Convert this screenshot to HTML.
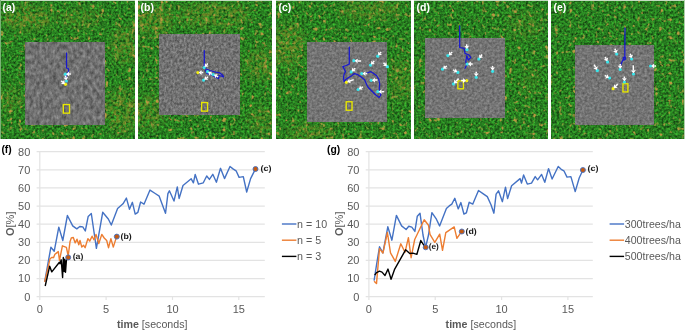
<!DOCTYPE html>
<html><head><meta charset="utf-8"><style>
html,body{margin:0;padding:0;background:#fff;}
body{width:685px;height:330px;overflow:hidden;position:relative;font-family:"Liberation Sans",sans-serif;}
svg{position:absolute;left:0;top:0;will-change:transform;}
</style></head><body>
<svg width="685" height="330" viewBox="0 0 685 330">
<defs>
<filter id="forest" x="0" y="0" width="100%" height="100%" color-interpolation-filters="sRGB">
  <feTurbulence type="fractalNoise" baseFrequency="0.42" numOctaves="2" seed="4" result="fine"/>
  <feColorMatrix in="fine" type="matrix" result="green" values="
    0.25 0 0 0 0.03
    0.8 0 0 0 0.09
    0.2 0 0 0 0.025
    0 0 0 0 1"/>
  <feGaussianBlur in="green" stdDeviation="0.45"/>
</filter>
<filter id="olive" x="0" y="0" width="100%" height="100%" color-interpolation-filters="sRGB">
  <feTurbulence type="fractalNoise" baseFrequency="0.3" numOctaves="2" seed="11" result="n"/>
  <feColorMatrix in="n" type="matrix" values="
    0 0 0 0 0.58
    0 0 0 0 0.57
    0 0 0 0 0.17
    0 0 0 4.0 -1.6"/>
  <feGaussianBlur stdDeviation="0.5"/>
</filter>
<filter id="speck" x="0" y="0" width="100%" height="100%" color-interpolation-filters="sRGB">
  <feTurbulence type="fractalNoise" baseFrequency="0.22" numOctaves="2" seed="23" result="n"/>
  <feColorMatrix in="n" type="matrix" values="
    0 0 0 0 0.72
    0 0 0 0 0.6
    0 0 0 0 0.26
    0 0 0 5.0 -3.1"/>
  <feGaussianBlur stdDeviation="0.5"/>
</filter>
<filter id="blurm" x="-50%" y="-50%" width="200%" height="200%"><feGaussianBlur stdDeviation="4"/></filter>
<filter id="grayn" x="0" y="0" width="100%" height="100%" color-interpolation-filters="sRGB">
  <feTurbulence type="fractalNoise" baseFrequency="0.4" numOctaves="2" seed="2" result="n"/>
  <feColorMatrix in="n" type="matrix" values="
    0.32 0 0 0 0.295
    0.32 0 0 0 0.295
    0.32 0 0 0 0.295
    0 0 0 0 1"/>
  <feGaussianBlur stdDeviation="0.4"/>
</filter>
<filter id="grayb" x="0" y="0" width="100%" height="100%" color-interpolation-filters="sRGB">
  <feTurbulence type="fractalNoise" baseFrequency="0.45 0.35" numOctaves="3" seed="8" result="n"/>
  <feColorMatrix in="n" type="matrix" values="
    0.4 0 0 0 0.245
    0.4 0 0 0 0.245
    0.4 0 0 0 0.245
    0 0 0 0 1"/>
  <feGaussianBlur stdDeviation="0.4"/>
</filter>
<filter id="grays" x="0" y="0" width="100%" height="100%" color-interpolation-filters="sRGB">
  <feTurbulence type="fractalNoise" baseFrequency="0.3 0.2" numOctaves="3" seed="5" result="n"/>
  <feColorMatrix in="n" type="matrix" values="
    0.4 0 0 0 0.24
    0.4 0 0 0 0.24
    0.4 0 0 0 0.24
    0 0 0 0 1"/>
  <feGaussianBlur stdDeviation="0.4"/>
</filter>
</defs>

<rect x="1" y="1" width="134" height="138" filter="url(#forest)" fill="#000"/>
<rect x="138" y="1" width="134" height="138" filter="url(#forest)" fill="#000"/>
<rect x="276" y="1" width="135" height="138" filter="url(#forest)" fill="#000"/>
<rect x="414" y="1" width="134" height="138" filter="url(#forest)" fill="#000"/>
<rect x="551" y="1" width="133" height="138" filter="url(#forest)" fill="#000"/>
<mask id="om" maskUnits="userSpaceOnUse" x="0" y="0" width="685" height="140"><rect x="0" y="0" width="685" height="140" fill="#000"/><g filter="url(#blurm)">
<ellipse cx="28" cy="18" rx="25" ry="12" fill="#fff" opacity="0.68"/>
<ellipse cx="80" cy="18" rx="22" ry="10" fill="#fff" opacity="0.425"/>
<ellipse cx="125" cy="45" rx="14" ry="18" fill="#fff" opacity="0.595"/>
<ellipse cx="122" cy="112" rx="16" ry="22" fill="#fff" opacity="0.595"/>
<ellipse cx="10" cy="100" rx="12" ry="12" fill="#fff" opacity="0.425"/>
<ellipse cx="155" cy="20" rx="18" ry="15" fill="#fff" opacity="0.68"/>
<ellipse cx="215" cy="15" rx="35" ry="12" fill="#fff" opacity="0.595"/>
<ellipse cx="260" cy="65" rx="14" ry="15" fill="#fff" opacity="0.595"/>
<ellipse cx="150" cy="112" rx="14" ry="18" fill="#fff" opacity="0.51"/>
<ellipse cx="262" cy="122" rx="12" ry="14" fill="#fff" opacity="0.51"/>
<ellipse cx="288" cy="45" rx="14" ry="22" fill="#fff" opacity="0.68"/>
<ellipse cx="370" cy="10" rx="30" ry="10" fill="#fff" opacity="0.51"/>
<ellipse cx="402" cy="80" rx="10" ry="20" fill="#fff" opacity="0.51"/>
<ellipse cx="310" cy="132" rx="25" ry="8" fill="#fff" opacity="0.51"/>
<ellipse cx="525" cy="25" rx="18" ry="14" fill="#fff" opacity="0.2975"/>
<ellipse cx="530" cy="80" rx="10" ry="14" fill="#fff" opacity="0.255"/>
</g></mask>
<g mask="url(#om)">
<rect x="1" y="1" width="134" height="138" filter="url(#olive)" fill="#000"/>
<rect x="138" y="1" width="134" height="138" filter="url(#olive)" fill="#000"/>
<rect x="276" y="1" width="135" height="138" filter="url(#olive)" fill="#000"/>
<rect x="414" y="1" width="134" height="138" filter="url(#olive)" fill="#000"/>
<rect x="551" y="1" width="133" height="138" filter="url(#olive)" fill="#000"/>
</g>
<rect x="1" y="1" width="134" height="138" filter="url(#speck)" fill="#000"/>
<rect x="138" y="1" width="134" height="138" filter="url(#speck)" fill="#000"/>
<rect x="276" y="1" width="135" height="138" filter="url(#speck)" fill="#000"/>
<rect x="414" y="1" width="134" height="138" filter="url(#speck)" fill="#000"/>
<rect x="551" y="1" width="133" height="138" filter="url(#speck)" fill="#000"/>
<rect x="1" y="0" width="134" height="1" fill="#c4dcc0"/>
<rect x="138" y="0" width="134" height="1" fill="#c4dcc0"/>
<rect x="276" y="0" width="135" height="1" fill="#c4dcc0"/>
<rect x="414" y="0" width="134" height="1" fill="#c4dcc0"/>
<rect x="551" y="0" width="133" height="1" fill="#c4dcc0"/>
<rect x="0" y="0" width="1" height="139" fill="#7cb276"/>
<rect x="684" y="0" width="1" height="139" fill="#b0cfaa"/>
<rect x="25" y="42" width="80" height="83" filter="url(#grays)" fill="#000"/>
<rect x="159" y="34" width="81" height="81" filter="url(#grayb)" fill="#000"/>
<rect x="307" y="42" width="80" height="80" filter="url(#grayn)" fill="#000"/>
<rect x="425" y="38.5" width="80" height="79.5" filter="url(#grayn)" fill="#000"/>
<rect x="575" y="45" width="79" height="80" filter="url(#grayn)" fill="#000"/>
<rect x="63.9" y="105.2" width="5" height="7.3" fill="none" stroke="#2a2a80" stroke-width="0.6" opacity=".6"/>
<rect x="63.3" y="104.6" width="6.2" height="8.5" fill="none" stroke="#e8e800" stroke-width="1.4"/>
<rect x="202.3" y="103.2" width="4.6" height="7.3" fill="none" stroke="#2a2a80" stroke-width="0.6" opacity=".6"/>
<rect x="201.7" y="102.6" width="5.8" height="8.5" fill="none" stroke="#e8e800" stroke-width="1.4"/>
<rect x="346.8" y="102.4" width="4.6" height="7.2" fill="none" stroke="#2a2a80" stroke-width="0.6" opacity=".6"/>
<rect x="346.2" y="101.8" width="5.8" height="8.4" fill="none" stroke="#e8e800" stroke-width="1.4"/>
<rect x="458.5" y="81.5" width="4.3" height="6.7" fill="none" stroke="#2a2a80" stroke-width="0.6" opacity=".6"/>
<rect x="457.9" y="80.9" width="5.5" height="7.9" fill="none" stroke="#e8e800" stroke-width="1.4"/>
<rect x="623.6" y="84.4" width="3.7" height="6.9" fill="none" stroke="#2a2a80" stroke-width="0.6" opacity=".6"/>
<rect x="623" y="83.8" width="4.9" height="8.1" fill="none" stroke="#e8e800" stroke-width="1.4"/>
<polyline points="66.6,53 66.5,68 68,68.3 68.7,70 68.3,72.2 66.8,73.8 66.3,76.2 65.9,78" fill="none" stroke="#1818d0" stroke-width="1.25" stroke-linejoin="round" stroke-linecap="round"/>
<polyline points="204.3,50.5 204.3,66 206,69 210,70.5 215,72 219.5,72.8 223,75.5 223.5,77 221,76 219,75.5 218.5,78.5 216,77.5 212,75 207,73.5 205.5,70.5" fill="none" stroke="#1818d0" stroke-width="1.25" stroke-linejoin="round" stroke-linecap="round"/>
<polyline points="349.3,47 349.3,64.1 346.2,65.5 342.8,66.6 344.1,68.9 345.5,71.6 344.1,74.3 343.5,77.7 344.1,81.8 345.5,79.8 348.2,77.7 351.6,75.7 354.4,73.6 357.1,74.3 361.2,77.1 364.6,79.8 366.6,84.6 368.3,87.5 373.3,92.5 375.8,95 379.2,97.5 380.8,95 380,91.7 379.2,88.3 379.7,84.2 378.7,79.2 376.7,75.8 373.3,73.3 370.8,71.7 368.3,72.5 366.7,73.3" fill="none" stroke="#1818d0" stroke-width="1.25" stroke-linejoin="round" stroke-linecap="round"/>
<polyline points="459.7,25.8 459.7,47.5 464.2,48.3 465,53.3 469.2,55 470.8,57.5 468.3,60 466.7,55.8 465.8,61.7 466.7,65 465,68.3" fill="none" stroke="#1818d0" stroke-width="1.25" stroke-linejoin="round" stroke-linecap="round"/>
<polyline points="625,28 624.8,57.1 623.2,57.7 623.8,60.2 625.6,58.9 625,56.5 622.6,60.5 620.8,64.7 620.2,67.7" fill="none" stroke="#1818d0" stroke-width="1.25" stroke-linejoin="round" stroke-linecap="round"/>
<circle cx="65.4" cy="74.2" r="1.6" fill="#38e4ea"/>
<line x1="70.9" y1="73.9" x2="69.1" y2="74" stroke="#fff" stroke-width="1.5"/>
<polygon points="66.1,74.2 68.9,71.6 69.3,76.4" fill="#fff"/>
<circle cx="66.4" cy="81" r="1.6" fill="#38e4ea"/>
<line x1="65.6" y1="75.6" x2="65.8" y2="77.3" stroke="#fff" stroke-width="1.5"/>
<polygon points="66.3,80.3 63.5,77.7 68.2,77" fill="#fff"/>
<circle cx="65.5" cy="84.3" r="1.6" fill="#f2ee10"/>
<line x1="61.2" y1="80.9" x2="62.6" y2="82" stroke="#fff" stroke-width="1.5"/>
<polygon points="64.9,83.9 61.1,83.9 64.1,80.1" fill="#fff"/>
<circle cx="204.2" cy="67.6" r="1.6" fill="#38e4ea"/>
<line x1="207.9" y1="63.5" x2="206.7" y2="64.8" stroke="#fff" stroke-width="1.5"/>
<polygon points="204.6,67.1 204.9,63.2 208.4,66.4" fill="#fff"/>
<circle cx="197.9" cy="72.6" r="1.6" fill="#f2ee10"/>
<line x1="203.4" y1="72.6" x2="201.6" y2="72.6" stroke="#fff" stroke-width="1.5"/>
<polygon points="198.6,72.6 201.6,70.2 201.6,75" fill="#fff"/>
<circle cx="207.6" cy="71.7" r="1.6" fill="#38e4ea"/>
<line x1="212.2" y1="74.7" x2="210.7" y2="73.7" stroke="#fff" stroke-width="1.5"/>
<polygon points="208.2,72.1 212,71.7 209.4,75.8" fill="#fff"/>
<circle cx="213.2" cy="74.5" r="1.6" fill="#38e4ea"/>
<line x1="218.2" y1="76.9" x2="216.6" y2="76.1" stroke="#fff" stroke-width="1.5"/>
<polygon points="213.9,74.8 217.6,73.9 215.6,78.2" fill="#fff"/>
<circle cx="203.6" cy="80.1" r="1.6" fill="#38e4ea"/>
<line x1="208" y1="76.8" x2="206.6" y2="77.9" stroke="#fff" stroke-width="1.5"/>
<polygon points="204.2,79.7 205.1,76 208,79.8" fill="#fff"/>
<circle cx="353.9" cy="60.7" r="1.6" fill="#38e4ea"/>
<line x1="361.2" y1="61.1" x2="357.6" y2="60.9" stroke="#fff" stroke-width="1.5"/>
<polygon points="354.6,60.7 357.7,58.5 357.5,63.3" fill="#fff"/>
<circle cx="351.2" cy="71.9" r="1.6" fill="#38e4ea"/>
<line x1="355.3" y1="68.2" x2="353.9" y2="69.4" stroke="#fff" stroke-width="1.5"/>
<polygon points="351.7,71.5 352.3,67.7 355.6,71.2" fill="#fff"/>
<circle cx="361.8" cy="73.6" r="1.6" fill="#38e4ea"/>
<line x1="367.3" y1="73.6" x2="365.5" y2="73.6" stroke="#fff" stroke-width="1.5"/>
<polygon points="362.5,73.6 365.5,71.2 365.5,76" fill="#fff"/>
<circle cx="370.5" cy="65.1" r="1.6" fill="#38e4ea"/>
<line x1="374.2" y1="61.1" x2="373" y2="62.4" stroke="#fff" stroke-width="1.5"/>
<polygon points="370.9,64.6 371.3,60.7 374.7,64" fill="#fff"/>
<circle cx="377.7" cy="56.2" r="1.6" fill="#38e4ea"/>
<line x1="381.1" y1="51.9" x2="380" y2="53.3" stroke="#fff" stroke-width="1.5"/>
<polygon points="378.1,55.6 378.1,51.8 381.9,54.8" fill="#fff"/>
<circle cx="387.4" cy="66.7" r="1.6" fill="#38e4ea"/>
<line x1="383.5" y1="62.8" x2="384.7" y2="64" stroke="#fff" stroke-width="1.5"/>
<polygon points="386.9,66.2 383,65.7 386.4,62.3" fill="#fff"/>
<circle cx="371.2" cy="80.3" r="1.6" fill="#38e4ea"/>
<line x1="377.5" y1="80" x2="374.9" y2="80.1" stroke="#fff" stroke-width="1.5"/>
<polygon points="371.9,80.3 374.8,77.7 375,82.5" fill="#fff"/>
<circle cx="377.8" cy="91.7" r="1.6" fill="#38e4ea"/>
<line x1="384.2" y1="91.7" x2="381.5" y2="91.7" stroke="#fff" stroke-width="1.5"/>
<polygon points="378.5,91.7 381.5,89.3 381.5,94.1" fill="#fff"/>
<circle cx="358.1" cy="89.5" r="1.6" fill="#38e4ea"/>
<line x1="362.9" y1="86.9" x2="361.3" y2="87.7" stroke="#fff" stroke-width="1.5"/>
<polygon points="358.7,89.2 360.1,85.6 362.5,89.8" fill="#fff"/>
<circle cx="346.4" cy="82.3" r="1.6" fill="#f2ee10"/>
<line x1="353.7" y1="79.6" x2="349.9" y2="81" stroke="#fff" stroke-width="1.5"/>
<polygon points="347.1,82 349.1,78.7 350.7,83.2" fill="#fff"/>
<circle cx="467" cy="49.7" r="1.6" fill="#38e4ea"/>
<line x1="466.6" y1="44.2" x2="466.7" y2="46" stroke="#fff" stroke-width="1.5"/>
<polygon points="467,49 464.3,46.2 469.1,45.8" fill="#fff"/>
<circle cx="447.9" cy="55.6" r="1.6" fill="#38e4ea"/>
<line x1="452.2" y1="52.1" x2="450.8" y2="53.3" stroke="#fff" stroke-width="1.5"/>
<polygon points="448.5,55.2 449.2,51.4 452.3,55.1" fill="#fff"/>
<circle cx="478.9" cy="59" r="1.6" fill="#38e4ea"/>
<line x1="482.1" y1="54.5" x2="481" y2="56" stroke="#fff" stroke-width="1.5"/>
<polygon points="479.3,58.4 479.1,54.6 483,57.3" fill="#fff"/>
<circle cx="467.2" cy="64.1" r="1.6" fill="#38e4ea"/>
<line x1="472.7" y1="63.9" x2="470.9" y2="64" stroke="#fff" stroke-width="1.5"/>
<polygon points="467.9,64.1 470.8,61.6 471,66.4" fill="#fff"/>
<circle cx="442.5" cy="69.2" r="1.6" fill="#38e4ea"/>
<line x1="446.8" y1="65.8" x2="445.4" y2="66.9" stroke="#fff" stroke-width="1.5"/>
<polygon points="443.1,68.8 443.9,65 446.9,68.8" fill="#fff"/>
<circle cx="457.9" cy="72.4" r="1.6" fill="#38e4ea"/>
<line x1="453.1" y1="69.8" x2="454.7" y2="70.7" stroke="#fff" stroke-width="1.5"/>
<polygon points="457.3,72.1 453.5,72.8 455.8,68.6" fill="#fff"/>
<circle cx="476.2" cy="77.3" r="1.6" fill="#38e4ea"/>
<line x1="476.2" y1="71.8" x2="476.2" y2="73.6" stroke="#fff" stroke-width="1.5"/>
<polygon points="476.2,76.6 473.8,73.6 478.6,73.6" fill="#fff"/>
<circle cx="492.6" cy="71.3" r="1.6" fill="#38e4ea"/>
<line x1="492.6" y1="65.8" x2="492.6" y2="67.6" stroke="#fff" stroke-width="1.5"/>
<polygon points="492.6,70.6 490.2,67.6 495,67.6" fill="#fff"/>
<circle cx="453.5" cy="83.9" r="1.6" fill="#38e4ea"/>
<line x1="458.6" y1="78.6" x2="456" y2="81.2" stroke="#fff" stroke-width="1.5"/>
<polygon points="453.9,83.4 454.3,79.5 457.8,82.9" fill="#fff"/>
<circle cx="466.7" cy="80.7" r="1.6" fill="#f2ee10"/>
<line x1="461.2" y1="80.4" x2="463" y2="80.5" stroke="#fff" stroke-width="1.5"/>
<polygon points="466,80.7 462.9,82.9 463.2,78.1" fill="#fff"/>
<circle cx="616.7" cy="54" r="1.6" fill="#38e4ea"/>
<line x1="615" y1="48.7" x2="615.5" y2="50.5" stroke="#fff" stroke-width="1.5"/>
<polygon points="616.4,53.3 613.2,51.2 617.8,49.7" fill="#fff"/>
<circle cx="631.6" cy="59" r="1.6" fill="#38e4ea"/>
<line x1="630.2" y1="53.7" x2="630.7" y2="55.4" stroke="#fff" stroke-width="1.5"/>
<polygon points="631.4,58.3 628.3,56 633,54.8" fill="#fff"/>
<circle cx="607.6" cy="61.9" r="1.6" fill="#38e4ea"/>
<line x1="605.2" y1="57" x2="606" y2="58.6" stroke="#fff" stroke-width="1.5"/>
<polygon points="607.3,61.3 603.8,59.7 608.2,57.6" fill="#fff"/>
<circle cx="597.3" cy="70.6" r="1.6" fill="#38e4ea"/>
<line x1="594.1" y1="64.7" x2="595.6" y2="67.4" stroke="#fff" stroke-width="1.5"/>
<polygon points="597,70 593.5,68.5 597.7,66.2" fill="#fff"/>
<circle cx="620.2" cy="69.4" r="1.6" fill="#38e4ea"/>
<line x1="620.2" y1="63.9" x2="620.2" y2="65.7" stroke="#fff" stroke-width="1.5"/>
<polygon points="620.2,68.7 617.8,65.7 622.6,65.7" fill="#fff"/>
<circle cx="633.5" cy="74" r="1.6" fill="#38e4ea"/>
<line x1="633.2" y1="65.2" x2="633.4" y2="70.3" stroke="#fff" stroke-width="1.5"/>
<polygon points="633.5,73.3 631,70.4 635.8,70.2" fill="#fff"/>
<circle cx="650.6" cy="66" r="1.6" fill="#38e4ea"/>
<line x1="656.1" y1="66" x2="654.3" y2="66" stroke="#fff" stroke-width="1.5"/>
<polygon points="651.3,66 654.3,63.6 654.3,68.4" fill="#fff"/>
<circle cx="609.6" cy="78" r="1.6" fill="#38e4ea"/>
<line x1="604.8" y1="75.4" x2="606.4" y2="76.3" stroke="#fff" stroke-width="1.5"/>
<polygon points="609,77.7 605.2,78.4 607.5,74.2" fill="#fff"/>
<circle cx="624.4" cy="82" r="1.6" fill="#38e4ea"/>
<line x1="624.4" y1="76.5" x2="624.4" y2="78.3" stroke="#fff" stroke-width="1.5"/>
<polygon points="624.4,81.3 622,78.3 626.8,78.3" fill="#fff"/>
<circle cx="613.1" cy="88.7" r="1.6" fill="#f2ee10"/>
<line x1="617.7" y1="84.1" x2="615.8" y2="86" stroke="#fff" stroke-width="1.5"/>
<polygon points="613.6,88.2 614.1,84.3 617.5,87.7" fill="#fff"/>
<text x="2.5" y="11.2" font-size="10.5" font-weight="bold" fill="#fff">(a)</text>
<text x="140.5" y="11.2" font-size="10.5" font-weight="bold" fill="#fff">(b)</text>
<text x="278.5" y="11.2" font-size="10.5" font-weight="bold" fill="#fff">(c)</text>
<text x="416.5" y="11.2" font-size="10.5" font-weight="bold" fill="#fff">(d)</text>
<text x="553.5" y="11.2" font-size="10.5" font-weight="bold" fill="#fff">(e)</text>
</svg>
<svg width="685" height="330" viewBox="0 0 685 330" font-family="Liberation Sans, sans-serif">
<line x1="36.6" y1="278.6" x2="264.8" y2="278.6" stroke="#e3e3e3" stroke-width="1.2"/>
<line x1="36.6" y1="260.4" x2="264.8" y2="260.4" stroke="#e3e3e3" stroke-width="1.2"/>
<line x1="36.6" y1="242.3" x2="264.8" y2="242.3" stroke="#e3e3e3" stroke-width="1.2"/>
<line x1="36.6" y1="224.2" x2="264.8" y2="224.2" stroke="#e3e3e3" stroke-width="1.2"/>
<line x1="36.6" y1="206.1" x2="264.8" y2="206.1" stroke="#e3e3e3" stroke-width="1.2"/>
<line x1="36.6" y1="187.9" x2="264.8" y2="187.9" stroke="#e3e3e3" stroke-width="1.2"/>
<line x1="36.6" y1="169.8" x2="264.8" y2="169.8" stroke="#e3e3e3" stroke-width="1.2"/>
<line x1="36.6" y1="151.7" x2="264.8" y2="151.7" stroke="#e3e3e3" stroke-width="1.2"/>
<line x1="36.6" y1="296.7" x2="264.8" y2="296.7" stroke="#e3e3e3" stroke-width="1.2"/>
<line x1="39.8" y1="151.7" x2="39.8" y2="299.9" stroke="#e3e3e3" stroke-width="1.2"/>
<line x1="106.1" y1="296.7" x2="106.1" y2="299.9" stroke="#e3e3e3" stroke-width="1.2"/>
<line x1="172.5" y1="296.7" x2="172.5" y2="299.9" stroke="#e3e3e3" stroke-width="1.2"/>
<line x1="238.8" y1="296.7" x2="238.8" y2="299.9" stroke="#e3e3e3" stroke-width="1.2"/>
<text x="30.3" y="300.5" font-size="11" fill="#595959" text-anchor="end">0</text>
<text x="30.3" y="282.4" font-size="11" fill="#595959" text-anchor="end">10</text>
<text x="30.3" y="264.2" font-size="11" fill="#595959" text-anchor="end">20</text>
<text x="30.3" y="246.1" font-size="11" fill="#595959" text-anchor="end">30</text>
<text x="30.3" y="228" font-size="11" fill="#595959" text-anchor="end">40</text>
<text x="30.3" y="209.9" font-size="11" fill="#595959" text-anchor="end">50</text>
<text x="30.3" y="191.8" font-size="11" fill="#595959" text-anchor="end">60</text>
<text x="30.3" y="173.6" font-size="11" fill="#595959" text-anchor="end">70</text>
<text x="30.3" y="155.5" font-size="11" fill="#595959" text-anchor="end">80</text>
<text x="39.8" y="313" font-size="11" fill="#595959" text-anchor="middle">0</text>
<text x="106.1" y="313" font-size="11" fill="#595959" text-anchor="middle">5</text>
<text x="172.5" y="313" font-size="11" fill="#595959" text-anchor="middle">10</text>
<text x="238.8" y="313" font-size="11" fill="#595959" text-anchor="middle">15</text>
<text x="117" y="328.1" font-size="11" fill="#595959" textLength="70.5" lengthAdjust="spacingAndGlyphs"><tspan font-weight="bold">time</tspan> [seconds]</text>
<text transform="translate(14,236) rotate(-90)" font-size="11" fill="#595959"><tspan font-weight="bold">O</tspan>[%]</text>
<text x="1.4" y="153.2" font-size="10.3" font-weight="bold" fill="#000">(f)</text>
<polyline points="44.7,281.7 50.9,247.2 54.2,251.3 58.8,227.1 62.8,240.5 67.4,215.5 72.7,225.9 76.8,228.9 79.8,226.5 82.8,226.9 85.3,231 88.2,216.4 91.3,213.5 96.4,248.3 102.7,212.3 108.3,219 111.3,225 117.6,208.6 123,203.8 126.4,198.1 129.5,209.2 132.4,202.3 135.2,214.1 137.9,212.3 140.6,202 144,204.2 150,190.1 155.2,193.5 159.2,196.2 165.5,213.3 167.9,193.6 169.4,190.8 174,201 177.3,186.9 179.1,198.5 183,185.5 191.2,178.8 193.4,182.8 195.2,174.5 198.5,184.2 203.3,182.8 206.7,176 209.4,179.4 212.8,174.3 216.4,182.2 220.5,168.3 224.5,178.6 230,166.5 233,168.9 236.1,170.8 239.1,177.4 243.3,176.6 246.7,192 250.6,178.6 255.5,168.9" fill="none" stroke="#4472C4" stroke-width="1.4" stroke-linejoin="round"/>
<polyline points="44.7,282 50,258.8 52.1,257.3 53.5,257.7 54.9,254.3 56.4,253.1 58.3,251.6 59.5,260.4 62.4,245.8 66.4,247.3 68.2,256 70,241.8 71.3,238 73.3,237.4 75.2,242.9 77,239.2 78.8,244.7 80,240.5 81.8,247.1 83.6,245.3 85.1,247.7 87.9,238.6 89.7,241.1 92.1,236.2 93.9,239.8 96,234.4 98.8,243.5 101.8,234.4 104.2,238 106.7,240.5 108.5,247.7 110.9,238.6 113.3,247.1 116.6,236.6" fill="none" stroke="#ED7D31" stroke-width="1.4" stroke-linejoin="round"/>
<polyline points="45.2,286 49.7,266.2 51.8,271.9 59.4,262.2 60,263.8 61.2,259.8 62.6,277.5 63.3,257.5 64.2,271.5 64.8,259.2 65.5,272.2 66.4,260.4 68.3,257.3" fill="none" stroke="#000000" stroke-width="1.4" stroke-linejoin="round"/>
<line x1="281.9" y1="224" x2="296.4" y2="224" stroke="#4472C4" stroke-width="1.4"/>
<text x="297.1" y="227.9" font-size="11" fill="#595959" textLength="30" lengthAdjust="spacingAndGlyphs">n = 10</text>
<line x1="281.9" y1="240.2" x2="296.4" y2="240.2" stroke="#ED7D31" stroke-width="1.4"/>
<text x="297.1" y="244.1" font-size="11" fill="#595959" textLength="24.2" lengthAdjust="spacingAndGlyphs">n = 5</text>
<line x1="281.9" y1="256.4" x2="296.4" y2="256.4" stroke="#000000" stroke-width="1.4"/>
<text x="297.1" y="260.3" font-size="11" fill="#595959" textLength="24.2" lengthAdjust="spacingAndGlyphs">n = 3</text>
<circle cx="68.2" cy="257.4" r="2.5" fill="#C55A11" stroke="#4472C4" stroke-width="0.9"/>
<text x="72.7" y="259.1" font-size="8.1" font-weight="bold" fill="#1a1a1a" text-rendering="geometricPrecision" textLength="10.7" lengthAdjust="spacingAndGlyphs">(a)</text>
<circle cx="116.8" cy="236.6" r="2.5" fill="#C55A11" stroke="#4472C4" stroke-width="0.9"/>
<text x="120.5" y="239.3" font-size="8.1" font-weight="bold" fill="#1a1a1a" text-rendering="geometricPrecision" textLength="11.2" lengthAdjust="spacingAndGlyphs">(b)</text>
<circle cx="255.5" cy="169" r="2.5" fill="#C55A11" stroke="#4472C4" stroke-width="0.9"/>
<text x="260.5" y="171.2" font-size="8.1" font-weight="bold" fill="#1a1a1a" text-rendering="geometricPrecision" textLength="11" lengthAdjust="spacingAndGlyphs">(c)</text>
<line x1="365.7" y1="278.6" x2="592.8" y2="278.6" stroke="#e3e3e3" stroke-width="1.2"/>
<line x1="365.7" y1="260.4" x2="592.8" y2="260.4" stroke="#e3e3e3" stroke-width="1.2"/>
<line x1="365.7" y1="242.3" x2="592.8" y2="242.3" stroke="#e3e3e3" stroke-width="1.2"/>
<line x1="365.7" y1="224.2" x2="592.8" y2="224.2" stroke="#e3e3e3" stroke-width="1.2"/>
<line x1="365.7" y1="206.1" x2="592.8" y2="206.1" stroke="#e3e3e3" stroke-width="1.2"/>
<line x1="365.7" y1="187.9" x2="592.8" y2="187.9" stroke="#e3e3e3" stroke-width="1.2"/>
<line x1="365.7" y1="169.8" x2="592.8" y2="169.8" stroke="#e3e3e3" stroke-width="1.2"/>
<line x1="365.7" y1="151.7" x2="592.8" y2="151.7" stroke="#e3e3e3" stroke-width="1.2"/>
<line x1="365.7" y1="296.7" x2="592.8" y2="296.7" stroke="#e3e3e3" stroke-width="1.2"/>
<line x1="368.9" y1="151.7" x2="368.9" y2="299.9" stroke="#e3e3e3" stroke-width="1.2"/>
<line x1="435.2" y1="296.7" x2="435.2" y2="299.9" stroke="#e3e3e3" stroke-width="1.2"/>
<line x1="501.6" y1="296.7" x2="501.6" y2="299.9" stroke="#e3e3e3" stroke-width="1.2"/>
<line x1="567.9" y1="296.7" x2="567.9" y2="299.9" stroke="#e3e3e3" stroke-width="1.2"/>
<text x="359.4" y="300.5" font-size="11" fill="#595959" text-anchor="end">0</text>
<text x="359.4" y="282.4" font-size="11" fill="#595959" text-anchor="end">10</text>
<text x="359.4" y="264.2" font-size="11" fill="#595959" text-anchor="end">20</text>
<text x="359.4" y="246.1" font-size="11" fill="#595959" text-anchor="end">30</text>
<text x="359.4" y="228" font-size="11" fill="#595959" text-anchor="end">40</text>
<text x="359.4" y="209.9" font-size="11" fill="#595959" text-anchor="end">50</text>
<text x="359.4" y="191.8" font-size="11" fill="#595959" text-anchor="end">60</text>
<text x="359.4" y="173.6" font-size="11" fill="#595959" text-anchor="end">70</text>
<text x="359.4" y="155.5" font-size="11" fill="#595959" text-anchor="end">80</text>
<text x="368.9" y="313" font-size="11" fill="#595959" text-anchor="middle">0</text>
<text x="435.2" y="313" font-size="11" fill="#595959" text-anchor="middle">5</text>
<text x="501.6" y="313" font-size="11" fill="#595959" text-anchor="middle">10</text>
<text x="567.9" y="313" font-size="11" fill="#595959" text-anchor="middle">15</text>
<text x="445.6" y="328.1" font-size="11" fill="#595959" textLength="70.5" lengthAdjust="spacingAndGlyphs"><tspan font-weight="bold">time</tspan> [seconds]</text>
<text transform="translate(342.6,236) rotate(-90)" font-size="11" fill="#595959"><tspan font-weight="bold">O</tspan>[%]</text>
<text x="327" y="153.2" font-size="10.3" font-weight="bold" fill="#000">(g)</text>
<polyline points="374.1,280.6 376.5,265 379.5,246.8 382.9,252.9 387.8,226.8 391.9,240.2 396.4,215.4 401.6,225.9 406.1,229.5 408.8,226.3 411.8,227.1 414.9,231.4 417.3,216.2 420,213.2 423,235 425.6,247.4 428.5,235 431.9,212.6 436.4,219.2 439.6,225.9 446.4,208.6 450,205.3 451.8,204.1 454.8,198.3 458.2,208.9 460.9,202.6 463.9,214 466.4,212.8 469.2,202.3 472.8,204.1 478.5,190.5 483.3,193.8 487.3,196.6 491,204.7 493.9,213.2 496.1,194.2 498.5,190.8 502.4,201.7 505.5,187.1 507.6,198.6 511.6,185.7 520.1,178.6 521.5,183 523.6,175 527.3,184.1 531.5,183.1 535.2,176.6 537.6,179.8 541.6,174.4 544.8,182.3 548.5,168.6 552.1,179 558.2,166.5 561.2,169.3 563.9,170.8 567,177.1 570.9,176.6 575.2,191.6 579.2,178 582.8,170.2" fill="none" stroke="#4472C4" stroke-width="1.4" stroke-linejoin="round"/>
<polyline points="374.1,281.2 376.5,283.6 379.5,248.6 382.9,253.1 387.4,232.5 390.5,252.9 395.3,261.4 400.8,243.8 405,252.3 408.4,237.7 411.1,257.7 414.7,239.5 424.2,219.8 428.5,225.3 430,234.4 434.8,242.3 439.7,234.2 442.5,250.4 445.8,232.6 454.2,226.9 456.9,238.3 461.5,231.7" fill="none" stroke="#ED7D31" stroke-width="1.4" stroke-linejoin="round"/>
<polyline points="374.7,275.2 376.5,272.7 379.5,271.2 382,272.1 385,275.5 388,269.1 391.1,279.2 394.7,269.1 405.6,249.8 409.8,253.5 412.9,253.1 416.9,254.3 420.8,240.5 424.4,246.2 425.6,247.4" fill="none" stroke="#000000" stroke-width="1.4" stroke-linejoin="round"/>
<line x1="609.6" y1="224" x2="624.1" y2="224" stroke="#4472C4" stroke-width="1.4"/>
<text x="624.8" y="227.9" font-size="11" fill="#595959" textLength="56" lengthAdjust="spacingAndGlyphs">300trees/ha</text>
<line x1="609.6" y1="240.2" x2="624.1" y2="240.2" stroke="#ED7D31" stroke-width="1.4"/>
<text x="624.8" y="244.1" font-size="11" fill="#595959" textLength="56" lengthAdjust="spacingAndGlyphs">400trees/ha</text>
<line x1="609.6" y1="256.4" x2="624.1" y2="256.4" stroke="#000000" stroke-width="1.4"/>
<text x="624.8" y="260.3" font-size="11" fill="#595959" textLength="56" lengthAdjust="spacingAndGlyphs">500trees/ha</text>
<circle cx="425.7" cy="247.3" r="2.5" fill="#C55A11" stroke="#4472C4" stroke-width="0.9"/>
<text x="428.7" y="249.3" font-size="8.1" font-weight="bold" fill="#1a1a1a" text-rendering="geometricPrecision" textLength="10.1" lengthAdjust="spacingAndGlyphs">(e)</text>
<circle cx="461.8" cy="231.5" r="2.5" fill="#C55A11" stroke="#4472C4" stroke-width="0.9"/>
<text x="465.5" y="234.1" font-size="8.1" font-weight="bold" fill="#1a1a1a" text-rendering="geometricPrecision" textLength="11.2" lengthAdjust="spacingAndGlyphs">(d)</text>
<circle cx="582.9" cy="170" r="2.5" fill="#C55A11" stroke="#4472C4" stroke-width="0.9"/>
<text x="587.5" y="171.4" font-size="8.1" font-weight="bold" fill="#1a1a1a" text-rendering="geometricPrecision" textLength="11" lengthAdjust="spacingAndGlyphs">(c)</text>
</svg>
</body></html>
